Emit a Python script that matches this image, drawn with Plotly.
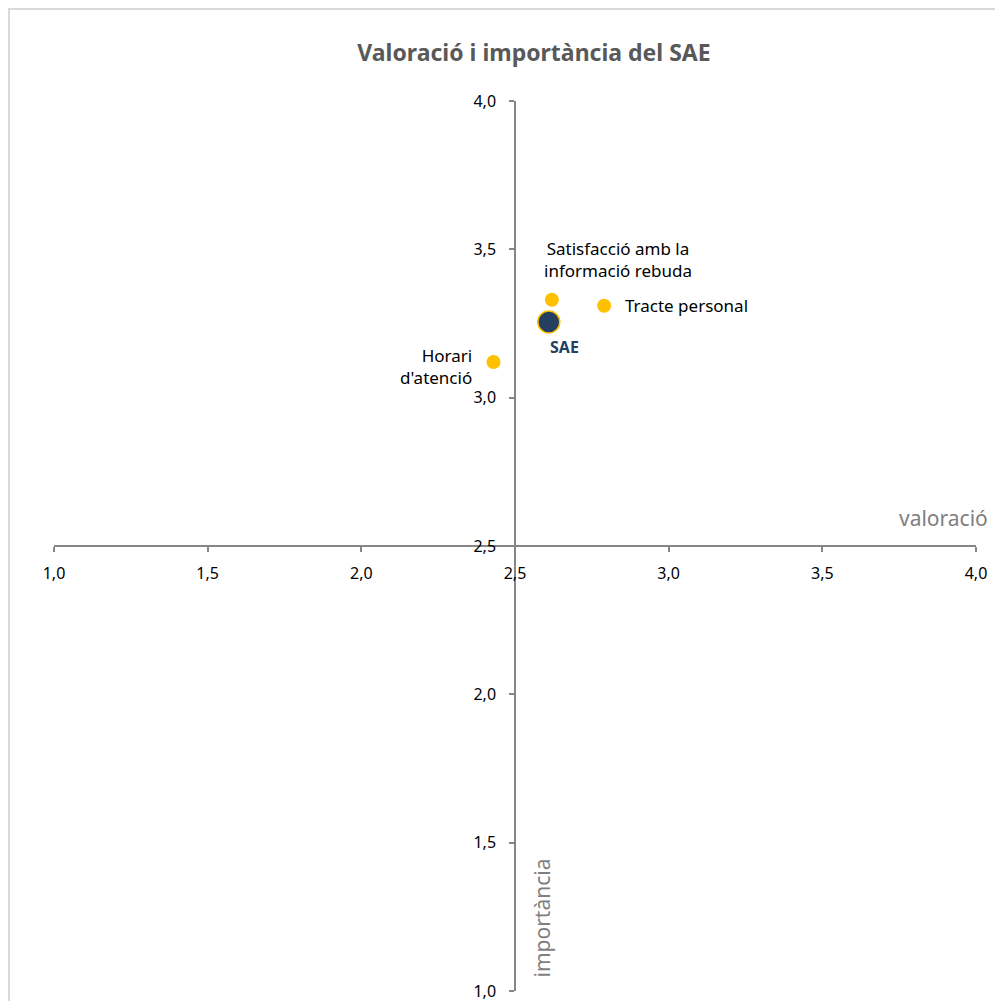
import plotly.graph_objects as go

# Data
names = ["Satisfacció amb la<br>informació rebuda", "Tracte personal", "Horari<br>d'atenció"]
valoracio = [2.62, 2.79, 2.43]
importancia = [3.33, 3.31, 3.12]
sae_name = "SAE"
sae_val = [2.61]
sae_imp = [3.255]

x_ticks = [1.0, 1.5, 2.0, 2.5, 3.0, 3.5, 4.0]
y_ticks = [1.0, 1.5, 2.0, 2.5, 3.0, 3.5, 4.0]

# page body has an 8px margin, so the figure is offset by 8px
W, H = 987, 993
L, R, T, B = 46, 19, 93, 10
FONT = "Noto Sans"
AXC = "#868686"

fig = go.Figure()
fig.add_trace(go.Scatter(x=valoracio, y=importancia, mode="markers",
                         marker=dict(color="#FFC000", size=14, line=dict(width=0)),
                         hoverinfo="skip", showlegend=False))
fig.add_trace(go.Scatter(x=sae_val, y=sae_imp, mode="markers",
                         marker=dict(color="#243F60", size=22, line=dict(color="#FFC000", width=1.5)),
                         hoverinfo="skip", showlegend=False))

# point labels
label_cfg = [
    dict(xshift=66, yshift=40, xanchor="center", align="center"),
    dict(xshift=19, yshift=0, xanchor="left", align="left"),
    dict(xshift=-19, yshift=-4, xanchor="right", align="right"),
]
for n, xv, yv, c in zip(names, valoracio, importancia, label_cfg):
    fig.add_annotation(x=xv, y=yv, text=n, showarrow=False, yanchor="middle",
                       font=dict(family=FONT, size=17, color="#000000"), **c)
fig.add_annotation(x=sae_val[0], y=sae_imp[0], text="<b>" + sae_name + "</b>", showarrow=False,
                   xshift=16, yshift=-25, xanchor="center", yanchor="middle",
                   font=dict(family=FONT, size=16, color="#243F60"))

# axis titles
fig.add_annotation(x=1.0, y=0.5, xref="paper", yref="paper", text="valoració", showarrow=False,
                   xanchor="right", yanchor="middle", yshift=28, xshift=14,
                   font=dict(family=FONT, size=21, color="#7F7F7F"))
fig.add_annotation(x=0.5, y=0.0, xref="paper", yref="paper", text="importància", showarrow=False,
                   textangle=-90, xanchor="center", yanchor="bottom", xshift=26, yshift=11,
                   font=dict(family=FONT, size=21, color="#7F7F7F"))

# chart border
fig.add_shape(type="rect", xref="paper", yref="paper", x0=-0.0488, x1=1.2, y0=-0.2, y1=1.1035,
              line=dict(color="#D9D9D9", width=2), fillcolor="rgba(0,0,0,0)", layer="below")

fig.update_layout(
    width=W, height=H,
    margin=dict(l=L, r=R, t=T, b=B),
    paper_bgcolor="white", plot_bgcolor="white",
    separators=",.",
    title=dict(text="<b>Valoració i importància del SAE</b>", x=(534 - 8) / W, xanchor="center",
               y=1 - 45 / H, yanchor="middle",
               font=dict(family=FONT, size=23, color="#595959")),
    xaxis=dict(range=[1.0, 4.0], tickvals=x_ticks, tickformat=".1f", showgrid=False, zeroline=False,
               showline=True, linecolor=AXC, linewidth=1.5, ticks="outside", ticklen=5,
               tickcolor=AXC, tickwidth=1.5, anchor="free", position=0.5, ticklabelstandoff=8,
               ticklabeloverflow="allow", automargin=False,
               tickfont=dict(family=FONT, size=16, color="#000000")),
    yaxis=dict(range=[1.0, 4.0], tickvals=y_ticks, tickformat=".1f", showgrid=False, zeroline=False,
               showline=True, linecolor=AXC, linewidth=1.5, ticks="outside", ticklen=5,
               tickcolor=AXC, tickwidth=1.5, anchor="free", position=0.5, ticklabelstandoff=10,
               ticklabeloverflow="allow", automargin=False,
               tickfont=dict(family=FONT, size=16, color="#000000")),
)

fig.write_html("out.html")
